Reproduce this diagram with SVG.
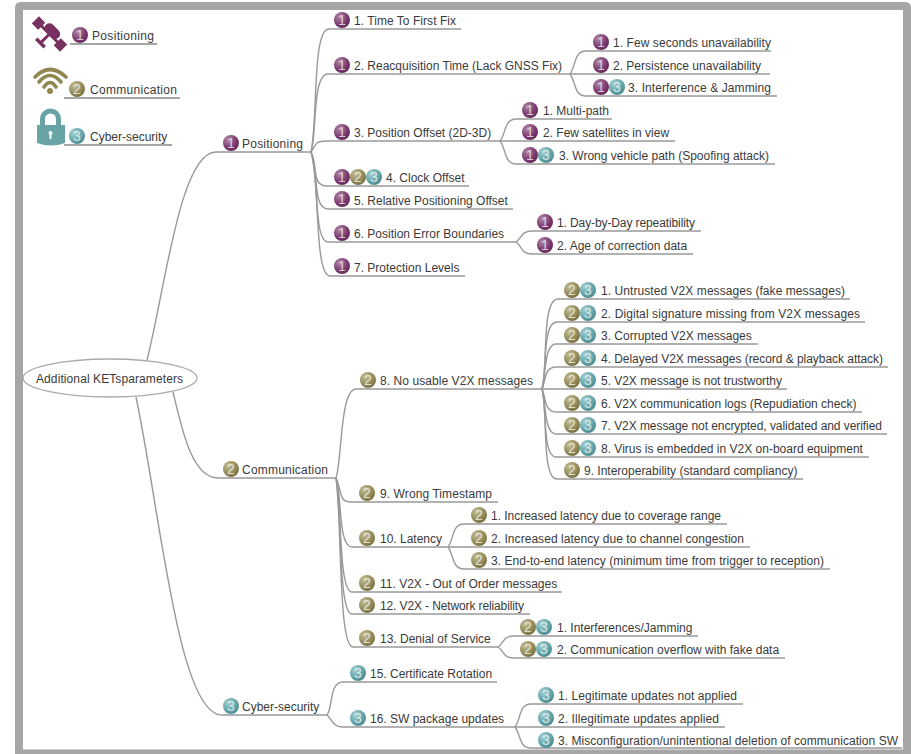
<svg xmlns="http://www.w3.org/2000/svg" xmlns:xlink="http://www.w3.org/1999/xlink" width="911" height="754" viewBox="0 0 911 754">
<style>
text{font-family:"Liberation Sans",Arial,sans-serif;font-size:12px;fill:#3a3a3a}
.c{fill:none;stroke:#999;stroke-width:1.4}
.u{fill:none;stroke:#888;stroke-width:1.4}
.d{font-size:14px;fill:#fff;fill-opacity:.72;text-anchor:middle}
</style>
<defs>
<radialGradient id="g1" cx=".35" cy=".3" r=".8"><stop offset="0" stop-color="#b08aa8"/><stop offset=".6" stop-color="#7d3a70"/><stop offset="1" stop-color="#5e2455"/></radialGradient>
<radialGradient id="g2" cx=".35" cy=".3" r=".8"><stop offset="0" stop-color="#c4bf98"/><stop offset=".6" stop-color="#948b58"/><stop offset="1" stop-color="#6f683c"/></radialGradient>
<radialGradient id="g3" cx=".35" cy=".3" r=".8"><stop offset="0" stop-color="#a8d2d4"/><stop offset=".6" stop-color="#63a5a9"/><stop offset="1" stop-color="#458589"/></radialGradient>
<g id="b1"><circle r="8" fill="url(#g1)"/><text class="d" y="5">1</text></g>
<g id="b2"><circle r="8" fill="url(#g2)"/><text class="d" y="5">2</text></g>
<g id="b3"><circle r="8" fill="url(#g3)"/><text class="d" y="5">3</text></g>
</defs>
<rect width="911" height="754" fill="#fff"/>
<path d="M15,754V8Q15,2 21,2H905Q911,2 911,8V754ZM23,10V749.500H903V10Z" fill="#a6a6a6" fill-rule="evenodd"/>

<g id="connectors">
<path class="c" d="M147,360C165,290 180,152 216,152H311"/>
<path class="c" d="M173,392C182,430 192,478 218,478H336"/>
<path class="c" d="M136,397C160,510 178,715 222,715H327"/>

<path class="c" d="M311,152C318,120 312,29 329,29H461"/>
<path class="c" d="M311,152C317,135 312,74 328,74H570"/>
<path class="c" d="M311,152C316,146 314,141 326,141H500"/>
<path class="c" d="M311,152C318,165 311,186 327,186H469"/>
<path class="c" d="M311,152C319,170 312,209 328,209H513"/>
<path class="c" d="M311,152C319,170 313,242 328,242H516"/>
<path class="c" d="M311,152C320,180 314,276 330,276H465"/>

<path class="c" d="M570,74C576,66 574,51 586,51H771"/>
<path class="c" d="M570,74H770"/>
<path class="c" d="M570,74C576,82 574,96 586,96H777"/>
<path class="c" d="M500,141C506,134 504,119 516,119H612"/>
<path class="c" d="M500,141H675"/>
<path class="c" d="M500,141C506,148 504,164 516,164H775"/>
<path class="c" d="M516,242C522,238 521,231 532,231H701"/>
<path class="c" d="M516,242C522,246 521,254 532,254H693"/>

<path class="c" d="M336,478C342,460 340,389 356,389H542"/>
<path class="c" d="M336,478C342,490 338,502 351,502H498"/>
<path class="c" d="M336,478C342,495 338,547 352,547H448"/>
<path class="c" d="M336,478C342,500 338,592 352,592H562"/>
<path class="c" d="M336,478C342,510 338,614 352,614H530"/>
<path class="c" d="M336,478C342,520 338,647 353,647H498"/>

<path class="c" d="M542,389C548,370 541,299 558,299H850"/>
<path class="c" d="M542,389C547,372 542,322 557,322H865"/>
<path class="c" d="M542,389C546,376 544,344 556,344H758"/>
<path class="c" d="M542,389C546,381 544,367 556,367H888"/>
<path class="c" d="M542,389H787"/>
<path class="c" d="M542,389C546,397 544,412 556,412H862"/>
<path class="c" d="M542,389C546,402 544,434 556,434H887"/>
<path class="c" d="M542,389C547,406 542,457 556,457H869"/>
<path class="c" d="M542,389C548,408 541,479 557,479H803"/>

<path class="c" d="M448,547C454,539 452,524 464,524H727"/>
<path class="c" d="M448,547H750"/>
<path class="c" d="M448,547C454,555 452,569 464,569H830"/>
<path class="c" d="M498,647C504,643 503,636 514,636H698"/>
<path class="c" d="M498,647C504,651 503,658 514,658H785"/>

<path class="c" d="M327,715C333,708 329,682 343,682H497"/>
<path class="c" d="M327,715C331,718 333,727 342,727H515"/>
<path class="c" d="M515,727C521,719 519,704 531,704H743"/>
<path class="c" d="M515,727H725"/>
<path class="c" d="M515,727C521,735 519,748 531,748H902"/>
</g>

<g id="legend-positioning">
<g transform="translate(49.500,34) rotate(45)" fill="#77305f">
<rect x="-20" y="-5" width="9" height="10"/><rect x="11" y="-5" width="9" height="10"/>
<rect x="-12" y="-1.500" width="24" height="3"/>
<rect x="-9" y="-9" width="18" height="10" rx="5"/><rect x="-1.500" y="1" width="3" height="13"/><rect x="-6" y="11" width="12" height="3.500"/>
</g>
<use xlink:href="#b1" href="#b1" x="80" y="35"/><text x="92" y="40" textLength="62">Positioning</text>
<path class="u" d="M70,44H157"/>
</g>
<g id="legend-communication">
<g fill="none" stroke="#8f8650" stroke-width="3.600" stroke-linecap="round"><path d="M35,77Q50,62 66,77"/><path d="M39,82Q50,69 61,82"/><path d="M44,87Q50,78 56,87"/></g>
<circle cx="50" cy="91" r="3" fill="#8f8650"/>
<use xlink:href="#b2" href="#b2" x="77" y="89"/><text x="90" y="94" textLength="87">Communication</text>
<path class="u" d="M64,98H180"/>
</g>
<g id="legend-cyber">
<path d="M42.500,126V119a8,8 0 0 1 16,0V126" fill="none" stroke="#68a4a6" stroke-width="5"/>
<path d="M37,125H65V143Q51,148 37,143Z" fill="#68a4a6"/><circle cx="50.500" cy="133" r="2" fill="#fff"/><path d="M50.500,133V139" stroke="#fff" stroke-width="2"/>
<use xlink:href="#b3" href="#b3" x="77" y="136"/><text x="90" y="141">Cyber-security</text>
<path class="u" d="M64,145H172"/>
</g>

<g id="root"><ellipse cx="110" cy="378" rx="87" ry="19" fill="#fff" stroke="#aaa" stroke-width="1.3"/><text x="36" y="383" textLength="147">Additional KETsparameters</text></g>

<g id="n-positioning"><use xlink:href="#b1" href="#b1" x="231" y="143"/><text x="242" y="148" textLength="61">Positioning</text></g>
<g id="n-communication"><use xlink:href="#b2" href="#b2" x="231" y="469"/><text x="242" y="474" textLength="86">Communication</text></g>
<g id="n-cyber"><use xlink:href="#b3" href="#b3" x="231" y="706"/><text x="242" y="711">Cyber-security</text></g>

<g id="p1"><use xlink:href="#b1" href="#b1" x="342" y="20"/><text x="354" y="25" textLength="102">1. Time To First Fix</text></g>
<g id="p2"><use xlink:href="#b1" href="#b1" x="342" y="65"/><text x="354" y="70">2. Reacquisition Time (Lack GNSS Fix)</text></g>
<g id="p3"><use xlink:href="#b1" href="#b1" x="342" y="132"/><text x="354" y="137">3. Position Offset (2D-3D)</text></g>
<g id="p4"><use xlink:href="#b1" href="#b1" x="342" y="177"/><use xlink:href="#b2" href="#b2" x="358" y="177"/><use xlink:href="#b3" href="#b3" x="374" y="177"/><text x="386" y="182">4. Clock Offset</text></g>
<g id="p5"><use xlink:href="#b1" href="#b1" x="342" y="199"/><text x="354" y="205">5. Relative Positioning Offset</text></g>
<g id="p6"><use xlink:href="#b1" href="#b1" x="342" y="233"/><text x="354" y="238">6. Position Error Boundaries</text></g>
<g id="p7"><use xlink:href="#b1" href="#b1" x="342" y="266"/><text x="354" y="272">7. Protection Levels</text></g>

<g id="p2-1"><use xlink:href="#b1" href="#b1" x="601" y="42"/><text x="613" y="47" textLength="158">1. Few seconds unavailability</text></g>
<g id="p2-2"><use xlink:href="#b1" href="#b1" x="601" y="65"/><text x="613" y="70">2. Persistence unavailability</text></g>
<g id="p2-3"><use xlink:href="#b1" href="#b1" x="601" y="87"/><use xlink:href="#b3" href="#b3" x="617" y="87"/><text x="628" y="92" textLength="143">3. Interference &amp; Jamming</text></g>
<g id="p3-1"><use xlink:href="#b1" href="#b1" x="530" y="110"/><text x="543" y="115">1. Multi-path</text></g>
<g id="p3-2"><use xlink:href="#b1" href="#b1" x="530" y="132"/><text x="543" y="137">2. Few satellites in view</text></g>
<g id="p3-3"><use xlink:href="#b1" href="#b1" x="530" y="155"/><use xlink:href="#b3" href="#b3" x="546" y="155"/><text x="559" y="160">3. Wrong vehicle path (Spoofing attack)</text></g>
<g id="p6-1"><use xlink:href="#b1" href="#b1" x="545" y="222"/><text x="557" y="227" textLength="138">1. Day-by-Day repeatibility</text></g>
<g id="p6-2"><use xlink:href="#b1" href="#b1" x="545" y="245"/><text x="557" y="250">2. Age of correction data</text></g>

<g id="c8"><use xlink:href="#b2" href="#b2" x="368" y="380"/><text x="380" y="385" textLength="153">8. No usable V2X messages</text></g>
<g id="c9"><use xlink:href="#b2" href="#b2" x="367" y="493"/><text x="380" y="498" textLength="112">9. Wrong Timestamp</text></g>
<g id="c10"><use xlink:href="#b2" href="#b2" x="367" y="538"/><text x="380" y="543">10. Latency</text></g>
<g id="c11"><use xlink:href="#b2" href="#b2" x="367" y="583"/><text x="380" y="588">11. V2X - Out of Order messages</text></g>
<g id="c12"><use xlink:href="#b2" href="#b2" x="367" y="605"/><text x="380" y="610" textLength="144">12. V2X - Network reliability</text></g>
<g id="c13"><use xlink:href="#b2" href="#b2" x="367" y="638"/><text x="380" y="643">13. Denial of Service</text></g>

<g id="c8-1"><use xlink:href="#b2" href="#b2" x="572" y="290"/><use xlink:href="#b3" href="#b3" x="588" y="290"/><text x="601" y="295" textLength="244">1. Untrusted V2X messages (fake messages)</text></g>
<g id="c8-2"><use xlink:href="#b2" href="#b2" x="572" y="313"/><use xlink:href="#b3" href="#b3" x="588" y="313"/><text x="601" y="318" textLength="259">2. Digital signature missing from V2X messages</text></g>
<g id="c8-3"><use xlink:href="#b2" href="#b2" x="572" y="335"/><use xlink:href="#b3" href="#b3" x="588" y="335"/><text x="601" y="340">3. Corrupted V2X messages</text></g>
<g id="c8-4"><use xlink:href="#b2" href="#b2" x="572" y="358"/><use xlink:href="#b3" href="#b3" x="588" y="358"/><text x="601" y="363" textLength="282">4. Delayed V2X messages (record &amp; playback attack)</text></g>
<g id="c8-5"><use xlink:href="#b2" href="#b2" x="572" y="380"/><use xlink:href="#b3" href="#b3" x="588" y="380"/><text x="601" y="385" textLength="181">5. V2X message is not trustworthy</text></g>
<g id="c8-6"><use xlink:href="#b2" href="#b2" x="572" y="403"/><use xlink:href="#b3" href="#b3" x="588" y="403"/><text x="601" y="408">6. V2X communication logs (Repudiation check)</text></g>
<g id="c8-7"><use xlink:href="#b2" href="#b2" x="572" y="425"/><use xlink:href="#b3" href="#b3" x="588" y="425"/><text x="601" y="430" textLength="281">7. V2X message not encrypted, validated and verified</text></g>
<g id="c8-8"><use xlink:href="#b2" href="#b2" x="572" y="448"/><use xlink:href="#b3" href="#b3" x="588" y="448"/><text x="601" y="453">8. Virus is embedded in V2X on-board equipment</text></g>
<g id="c8-9"><use xlink:href="#b2" href="#b2" x="572" y="470"/><text x="584" y="475">9. Interoperability (standard compliancy)</text></g>

<g id="c10-1"><use xlink:href="#b2" href="#b2" x="479" y="515"/><text x="491" y="520" textLength="230">1. Increased latency due to coverage range</text></g>
<g id="c10-2"><use xlink:href="#b2" href="#b2" x="479" y="538"/><text x="491" y="543" textLength="253">2. Increased latency due to channel congestion</text></g>
<g id="c10-3"><use xlink:href="#b2" href="#b2" x="479" y="560"/><text x="491" y="565" textLength="333">3. End-to-end latency (minimum time from trigger to reception)</text></g>
<g id="c13-1"><use xlink:href="#b2" href="#b2" x="528" y="627"/><use xlink:href="#b3" href="#b3" x="544" y="627"/><text x="557" y="632">1. Interferences/Jamming</text></g>
<g id="c13-2"><use xlink:href="#b2" href="#b2" x="528" y="649"/><use xlink:href="#b3" href="#b3" x="544" y="649"/><text x="557" y="654">2. Communication overflow with fake data</text></g>

<g id="s15"><use xlink:href="#b3" href="#b3" x="358" y="673"/><text x="370" y="678">15. Certificate Rotation</text></g>
<g id="s16"><use xlink:href="#b3" href="#b3" x="358" y="718"/><text x="370" y="723">16. SW package updates</text></g>
<g id="s16-1"><use xlink:href="#b3" href="#b3" x="546" y="695"/><text x="558" y="700" textLength="179">1. Legitimate updates not applied</text></g>
<g id="s16-2"><use xlink:href="#b3" href="#b3" x="546" y="718"/><text x="558" y="723" textLength="161">2. Illegitimate updates applied</text></g>
<g id="s16-3"><use xlink:href="#b3" href="#b3" x="546" y="740"/><text x="558" y="745" textLength="340">3. Misconfiguration/unintentional deletion of communication SW</text></g>
</svg>
